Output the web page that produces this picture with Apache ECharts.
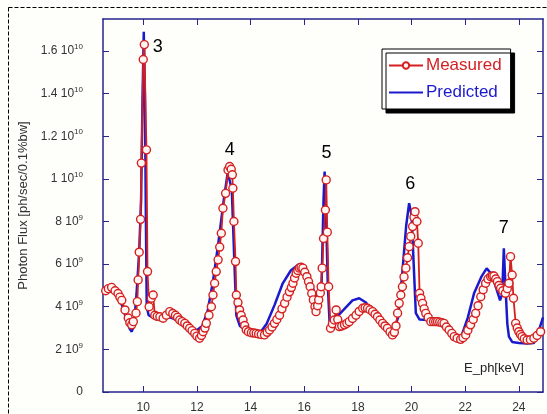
<!DOCTYPE html>
<html>
<head>
<meta charset="utf-8">
<script src="https://cdn.jsdelivr.net/npm/echarts@6/dist/echarts.min.js"></script>
<style>
  html, body { margin: 0; padding: 0; background: #fefefb; }
  #chart { width: 547px; height: 414px; }
</style>
</head>
<body>
<div id="chart"></div>
<script>
// photon energy [keV] and flux [10^9 ph/sec/0.1%bw]
var measured = [
  [8.6,4.75],[8.7,4.85],[8.82,4.91],[8.95,4.75],[9.06,4.62],[9.13,4.45],[9.2,4.3],[9.32,3.85],[9.44,3.47],[9.5,3.25],
  [9.57,3.15],[9.63,3.3],[9.73,3.7],[9.78,4.24],[9.81,5.26],[9.85,6.56],[9.9,8.1],[9.93,10.74],[10.0,15.6],[10.04,16.3],
  [10.12,11.36],[10.16,5.65],[10.22,4.0],[10.3,4.4],[10.37,4.55],[10.43,3.6],[10.52,3.55],[10.62,3.53],[10.74,3.46],[10.86,3.6],
  [10.99,3.77],[11.1,3.68],[11.2,3.6],[11.28,3.5],[11.36,3.38],[11.45,3.3],[11.55,3.22],[11.64,3.1],[11.73,2.99],[11.82,2.88],
  [11.92,2.75],[12.0,2.62],[12.1,2.52],[12.17,2.65],[12.23,2.83],[12.3,3.0],[12.35,3.22],[12.45,3.6],[12.54,4.0],[12.6,4.55],
  [12.66,5.1],[12.72,5.65],[12.79,6.2],[12.85,6.8],[12.91,7.45],[12.97,8.62],[13.07,9.32],[13.16,10.42],[13.22,10.58],[13.28,10.45],
  [13.32,10.19],[13.34,9.56],[13.38,8.0],[13.44,6.12],[13.47,4.55],[13.53,4.2],[13.59,3.85],[13.65,3.6],[13.72,3.38],[13.78,3.12],
  [13.84,2.91],[13.92,2.83],[14.03,2.78],[14.12,2.77],[14.21,2.75],[14.3,2.72],[14.4,2.7],[14.52,2.68],[14.62,2.8],[14.71,2.91],
  [14.8,3.05],[14.89,3.22],[14.98,3.4],[15.08,3.6],[15.17,3.9],[15.27,4.16],[15.36,4.45],[15.45,4.7],[15.52,4.9],[15.58,5.1],
  [15.64,5.35],[15.7,5.57],[15.76,5.7],[15.82,5.81],[15.88,5.85],[15.95,5.81],[16.02,5.62],[16.1,5.41],[16.16,5.18],[16.22,4.94],
  [16.28,4.62],[16.34,4.32],[16.4,4.0],[16.44,3.77],[16.5,4.05],[16.54,4.32],[16.6,4.65],[16.63,4.94],[16.67,5.81],[16.72,7.2],
  [16.79,8.54],[16.82,9.95],[16.86,7.5],[16.91,4.94],[16.98,2.99],[17.05,3.2],[17.12,3.38],[17.19,3.85],[17.25,3.4],[17.31,3.07],
  [17.4,3.1],[17.5,3.15],[17.59,3.22],[17.68,3.3],[17.8,3.45],[17.93,3.6],[18.05,3.78],[18.18,3.93],[18.27,3.95],[18.36,3.93],
  [18.45,3.86],[18.55,3.77],[18.64,3.65],[18.73,3.53],[18.82,3.38],[18.92,3.22],[19.01,3.1],[19.1,2.99],[19.2,2.82],[19.29,2.68],
  [19.36,2.8],[19.42,3.1],[19.48,3.7],[19.54,4.16],[19.6,4.55],[19.66,4.94],[19.72,5.4],[19.79,5.81],[19.85,6.3],[19.91,6.82],
  [19.97,7.3],[20.04,7.76],[20.09,8.2],[20.13,8.46],[20.2,8.0],[20.25,6.98],[20.3,4.63],[20.35,4.4],[20.41,4.16],[20.47,3.9],
  [20.53,3.69],[20.62,3.5],[20.72,3.3],[20.82,3.3],[20.9,3.3],[20.97,3.3],[21.05,3.28],[21.13,3.25],[21.21,3.22],[21.3,3.05],
  [21.4,2.91],[21.5,2.75],[21.59,2.6],[21.7,2.52],[21.83,2.47],[21.92,2.55],[22.02,2.68],[22.1,2.9],[22.2,3.15],[22.3,3.4],
  [22.39,3.69],[22.48,4.05],[22.58,4.47],[22.67,4.8],[22.76,5.1],[22.85,5.3],[22.95,5.41],[23.01,5.44],[23.07,5.44],[23.14,5.3],
  [23.2,5.18],[23.26,5.0],[23.32,4.87],[23.4,4.75],[23.5,4.63],[23.57,4.85],[23.63,5.1],[23.69,6.35],[23.75,5.49],[23.8,4.4],
  [23.88,3.22],[23.94,3.0],[24.0,2.83],[24.06,2.7],[24.12,2.6],[24.2,2.5],[24.31,2.44],[24.43,2.45],[24.56,2.52],[24.68,2.65],
  [24.81,2.83]
];

var predicted = [
  [8.5,4.7],[8.8,4.72],[9.0,4.6],[9.2,4.1],[9.4,3.3],[9.5,2.95],[9.57,2.83],[9.65,3.1],[9.75,4.6],[9.85,6.6],
  [9.92,9.0],[9.97,13.5],[10.02,16.9],[10.06,14],[10.1,8],[10.13,4.0],[10.2,3.6],[10.35,3.5],[10.6,3.55],[11.0,3.5],
  [11.4,3.3],[11.8,3.0],[12.0,2.9],[12.2,3.1],[12.4,3.8],[12.6,5.2],[12.8,7.0],[13.0,9.0],[13.15,10.3],[13.3,9.5],
  [13.4,6],[13.47,3.6],[13.6,3.1],[13.84,2.9],[14.1,2.75],[14.35,2.77],[14.6,3.2],[14.9,4.1],[15.2,5.1],[15.5,5.7],
  [15.8,6.0],[16.0,5.8],[16.25,5.1],[16.5,4.3],[16.65,5.2],[16.72,9],[16.76,10.34],[16.8,9],[16.88,5],[16.95,3.15],
  [17.2,3.5],[17.5,3.9],[17.8,4.3],[18.05,4.4],[18.3,4.2],[18.6,3.6],[18.92,3.07],[19.3,2.75],[19.5,3.5],[19.65,5.5],
  [19.8,7.8],[19.91,8.86],[20.0,8.3],[20.08,6],[20.16,3.7],[20.3,3.4],[20.6,3.38],[20.9,3.3],[21.2,3.07],[21.5,2.8],
  [21.83,2.52],[22.1,3.5],[22.33,4.63],[22.6,5.4],[22.8,5.8],[23.0,5.5],[23.15,4.9],[23.3,4.3],[23.38,4.6],[23.44,6.74],
  [23.5,5.0],[23.57,3.2],[23.63,2.6],[23.75,2.35],[24.0,2.3],[24.3,2.28],[24.56,2.3],[24.75,2.9],[24.9,3.5]
];

// harmonic numbers placed above the peaks
var peakLabels = [[10.54,16.2,'3'],[13.22,11.36,'4'],[16.83,11.2,'5'],[19.95,9.77,'6'],[23.44,7.7,'7']];

var xTicks = [10, 12, 14, 16, 18, 20, 22, 24];
var yTicks = [0, 2, 4, 6, 8, 10, 12, 14, 16];
var yMantissa = ['0', '2', '4', '6', '8', '1', '1.2', '1.4', '1.6'];
var yExponent = ['', '9', '9', '9', '9', '10', '10', '10', '10'];

var axisColor = '#25258c';
var red = '#d42020';
var blue = '#1a1acc';
var font = 'Liberation Sans, Arial, sans-serif';

var chart = echarts.init(document.getElementById('chart'));

function yLabel(val) {
  var i = yTicks.indexOf(val);
  if (i < 0) return '';
  if (yExponent[i] === '') return '{m|' + yMantissa[i] + '}';
  return '{m|' + yMantissa[i] + ' 10}{s|' + yExponent[i] + '}';
}

var axisBase = {
  axisLine: { show: true, onZero: false, lineStyle: { color: axisColor, width: 1.5 } },
  axisTick: { show: true, inside: true, length: 6, lineStyle: { color: axisColor, width: 1 } },
  splitLine: { show: false }
};

var option = {
  backgroundColor: '#fefefb',
  animation: false,
  textStyle: { fontFamily: font },
  grid: { left: 103, right: 4, top: 19, bottom: 22, containLabel: false },
  legend: {
    data: [
      { name: 'Measured', textStyle: { color: red } },
      { name: 'Predicted', textStyle: { color: blue }, itemStyle: { opacity: 0 } }
    ],
    orient: 'vertical',
    left: 382,
    top: 49,
    itemWidth: 34,
    itemHeight: 8,
    itemGap: 10,
    padding: [8, 9, 8, 6],
    backgroundColor: '#ffffff',
    borderColor: '#000',
    borderWidth: 1,
    shadowColor: '#000',
    shadowBlur: 0,
    shadowOffsetX: 4,
    shadowOffsetY: 4,
    textStyle: { fontSize: 17, fontFamily: font, padding: [0, 0, 0, -2] }
  },
  xAxis: [
    Object.assign({}, axisBase, {
      type: 'value', min: 8.5, max: 24.9, position: 'bottom',
      axisTick: Object.assign({}, axisBase.axisTick, { customValues: xTicks }),
      axisLabel: { customValues: xTicks, color: '#333', fontSize: 12, margin: 10, fontFamily: font }
    }),
    Object.assign({}, axisBase, {
      type: 'value', min: 8.5, max: 24.9, position: 'top',
      axisTick: Object.assign({}, axisBase.axisTick, { customValues: xTicks }),
      axisLabel: { show: false }
    })
  ],
  yAxis: [
    Object.assign({}, axisBase, {
      type: 'value', min: 0, max: 17.5, position: 'left',
      name: 'Photon Flux [ph/sec/0.1%bw]',
      nameLocation: 'middle', nameRotate: 90, nameGap: 66,
      nameTextStyle: { color: '#333', fontSize: 13, fontFamily: font },
      axisTick: Object.assign({}, axisBase.axisTick, { customValues: yTicks }),
      axisLabel: {
        customValues: yTicks, margin: 20, formatter: yLabel,
        rich: {
          m: { fontSize: 12, color: '#333', fontFamily: font, lineHeight: 16 },
          s: { fontSize: 8, color: '#333', fontFamily: font, verticalAlign: 'top', lineHeight: 10 }
        }
      }
    }),
    Object.assign({}, axisBase, {
      type: 'value', min: 0, max: 17.5, position: 'right',
      axisTick: Object.assign({}, axisBase.axisTick, { customValues: yTicks }),
      axisLabel: { show: false }
    })
  ],
  graphic: [
    {
      type: 'rect', silent: true, z: -1,
      shape: { x: 8.5, y: 7.5, width: 600, height: 500 },
      style: { fill: null, stroke: '#000', lineWidth: 1, lineDash: [4, 2] }
    },
    {
      type: 'text', left: 464, top: 362, silent: true,
      style: { text: 'E_ph[keV]', fontSize: 13, fontFamily: font, fill: '#222' }
    }
  ],
  series: [
    {
      name: 'Predicted', type: 'line', data: predicted,
      showSymbol: false, symbol: 'none', z: 2,
      lineStyle: { color: blue, width: 2.5 },
      itemStyle: { color: blue }
    },
    {
      name: 'Measured', type: 'line', data: measured,
      symbol: 'circle', symbolSize: 8, z: 3,
      lineStyle: { color: red, width: 1.8 },
      itemStyle: { color: '#fff6f4', borderColor: red, borderWidth: 1.4 }
    },
    {
      name: 'peaks', type: 'scatter', data: peakLabels, z: 4,
      symbolSize: 1, itemStyle: { color: '#000', opacity: 0.01 }, silent: true,
      label: {
        show: true, position: 'inside', color: '#000', opacity: 1,
        textBorderWidth: 0, fontSize: 18, fontFamily: font,
        formatter: function (p) { return p.data[2]; }
      }
    }
  ]
};

chart.setOption(option);
</script>
</body>
</html>
